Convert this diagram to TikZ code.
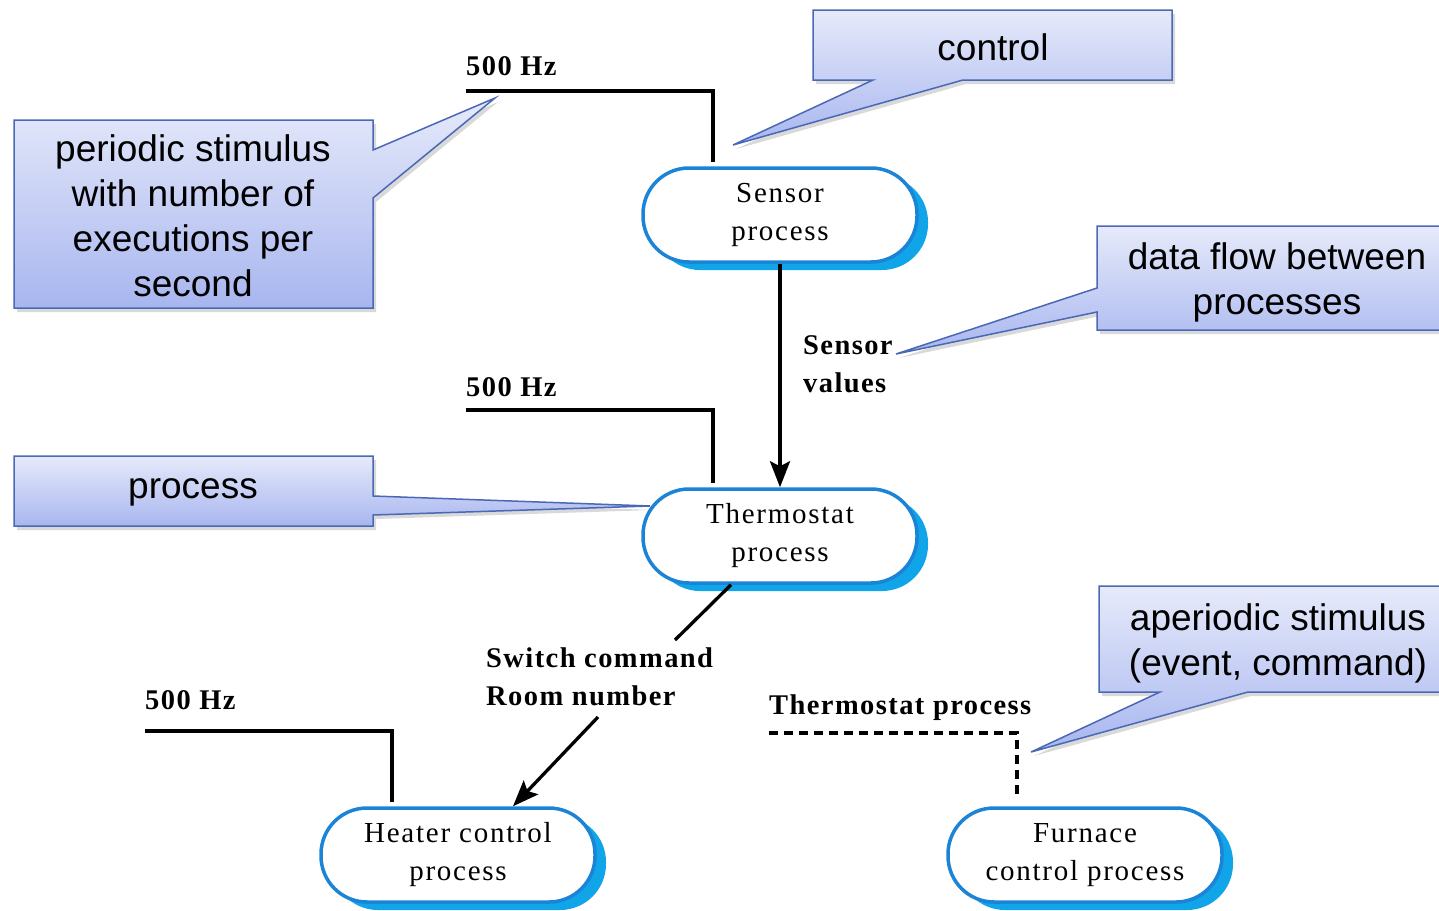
\documentclass[tikz,border=0pt]{standalone}
\usepackage{fontspec}
\setmainfont{Liberation Serif}
\newfontfamily\calloutfont{Liberation Sans}
\usetikzlibrary{arrows.meta,shadows}
\definecolor{procborder}{HTML}{1C84D6}
\definecolor{procshadow}{HTML}{10A4E8}
\definecolor{calloutline}{HTML}{4A68B6}
\definecolor{callouttop}{HTML}{E6EAFA}
\definecolor{calloutbottom}{HTML}{A8B6EF}

\begin{document}
\begin{tikzpicture}[x=1pt,y=-1pt,
  proc/.style={rectangle, rounded corners=46pt, minimum width=274pt,
    minimum height=94pt, draw=procborder, line width=3.5pt, fill=white,
    align=center, inner sep=0pt,
    font=\fontsize{29}{38}\selectfont\addfontfeatures{LetterSpace=6},
    general shadow={fill=procshadow, shadow xshift=11pt, shadow yshift=-8pt}},
  lbl/.style={inner sep=0pt, align=left,
    font=\fontsize{28.5}{38}\selectfont\bfseries\addfontfeatures{LetterSpace=5}},
  wire/.style={line width=3.3pt, black},
  tip/.style={-{Stealth[length=26pt,width=20pt,inset=5pt]}},
  callout/.style={draw=calloutline, line width=1.5pt, line join=miter,
    top color=callouttop, bottom color=calloutbottom,
    drop shadow={opacity=0.3, shadow xshift=3pt, shadow yshift=-4pt}},
  ctext/.style={inner sep=0pt, align=center,
    font=\calloutfont\fontsize{37}{45}\selectfont}
]
\useasboundingbox (0,0) rectangle (1439,910);
\clip (0,0) rectangle (1439,910);

% processes
\node[proc] (sensor)  at (780,215)  {Sensor\\process};
\node[proc] (thermo)  at (780,536)  {Thermostat\\process};
\node[proc] (heater)  at (458,855)  {Heater control\\process};
\node[proc] (furnace) at (1085,855) {Furnace\\control process};

% periodic stimuli
\coordinate (f1) at (466,91);
\coordinate (f2) at (466,410);
\coordinate (f3) at (145,731);
\node[lbl, anchor=west] (hz1) at (466,66)  {500 Hz};
\node[lbl, anchor=west] (hz2) at (466,387) {500 Hz};
\node[lbl, anchor=west] (hz3) at (145,700) {500 Hz};
\draw[wire, shorten >=4pt] (f1) -| ([xshift=-67pt]sensor.north);
\draw[wire, shorten >=4pt] (f2) -| ([xshift=-67pt]thermo.north);
\draw[wire, shorten >=4pt] (f3) -| ([xshift=-66pt]heater.north);

% data flow sensor -> thermostat
\draw[wire, tip] (sensor) -- (thermo);
\node[lbl, anchor=west] (sv) at (803,364) {Sensor\\values};

% data flow thermostat -> heater
\node[lbl, anchor=west] (sw) at (486,677) {Switch command\\Room number};
\coordinate (swA) at (675,640);
\coordinate (swB) at (598,717);
\draw[wire] ([xshift=-49pt]thermo.south) -- (swA);
\draw[wire, tip] (swB) -- ([xshift=55pt]heater.north);

% aperiodic stimulus
\node[lbl, anchor=west] (tp) at (769,708) {Thermostat process};
\coordinate (d0) at (769,733);
\draw[wire, dash pattern=on 9pt off 6pt, shorten >=10pt]
  (d0) -| ([xshift=-68pt]furnace.north);

% callouts
\path[callout] (813,10) -- (1172,10) -- (1172,80) -- (963,80) -- (733,145)
  -- (873,80) -- (813,80) -- cycle;
\node[ctext] (c1) at (993,47) {control};

\path[callout] (14,120) -- (373,120) -- (373,150) -- (495,98) -- (373,198)
  -- (373,308) -- (14,308) -- cycle;
\node[ctext] (c2) at (193,216) {periodic stimulus\\with number of\\executions per\\second};

\path[callout] (1097,226) -- (1460,226) -- (1460,330) -- (1097,330)
  -- (1097,312) -- (896,354) -- (1097,288) -- cycle;
\node[ctext] (c3) at (1277,282) {data flow between\\processes};

\path[callout] (14,456) -- (373,456) -- (373,496) -- (650,506) -- (373,515)
  -- (373,526) -- (14,526) -- cycle;
\node[ctext] (c4) at (193,492) {process};

\path[callout] (1099,586) -- (1460,586) -- (1460,692) -- (1248,692)
  -- (1031,752) -- (1160,692) -- (1099,692) -- cycle;
\node[ctext] (c5) at (1278,643) {aperiodic stimulus\\(event, command)};
\end{tikzpicture}
\end{document}
